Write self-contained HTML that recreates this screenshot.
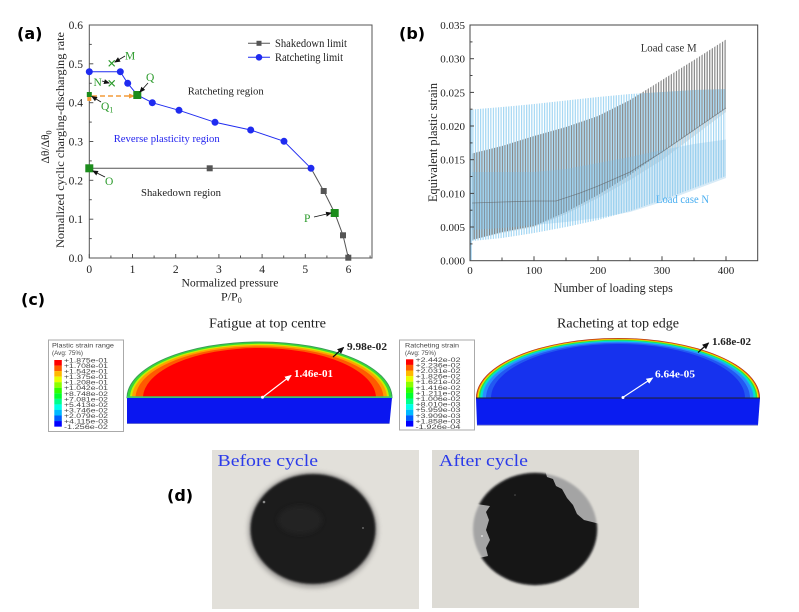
<!DOCTYPE html>
<html><head><meta charset="utf-8"><style>
html,body{margin:0;padding:0;background:#fff;}
svg{display:block;}
.t{font-family:"Liberation Serif",serif;}
.s{font-family:"Liberation Sans",sans-serif;}
.lb{font-family:"DejaVu Sans","Liberation Sans",sans-serif;font-weight:bold;font-size:16px;}
</style></head><body>
<svg width="799" height="612" viewBox="0 0 799 612" xmlns="http://www.w3.org/2000/svg">
<defs>
<marker id="ah" markerWidth="6" markerHeight="6" refX="5" refY="3" orient="auto" markerUnits="userSpaceOnUse"><path d="M0,0.5 L6,3 L0,5.5 z" fill="#111"/></marker>
<marker id="ahw" markerWidth="7" markerHeight="7" refX="6" refY="3.5" orient="auto" markerUnits="userSpaceOnUse"><path d="M0,0.5 L7,3.5 L0,6.5 z" fill="#fff"/></marker>
<marker id="ahb" markerWidth="7" markerHeight="7" refX="6" refY="3.5" orient="auto" markerUnits="userSpaceOnUse"><path d="M0,0.5 L7,3.5 L0,6.5 z" fill="#111"/></marker>
<marker id="aho" markerWidth="6" markerHeight="6" refX="5" refY="3" orient="auto" markerUnits="userSpaceOnUse"><path d="M0,0.5 L6,3 L0,5.5 z" fill="#f39c3a"/></marker>
<pattern id="pg" x="0" y="0" width="2.56" height="20" patternUnits="userSpaceOnUse"><rect x="0" y="0" width="1.2" height="20" fill="#858585"/></pattern>
<pattern id="pb" x="0" y="0" width="2.56" height="20" patternUnits="userSpaceOnUse"><rect x="1.28" y="0" width="1.2" height="20" fill="#a4d7f3"/></pattern>
<filter id="bl" x="-10%" y="-10%" width="120%" height="120%"><feGaussianBlur stdDeviation="1.1"/></filter>
<filter id="bl3" x="-20%" y="-20%" width="140%" height="140%"><feGaussianBlur stdDeviation="2.5"/></filter>
<clipPath id="cfat"><rect x="100" y="300" width="320" height="98.2"/></clipPath>
<clipPath id="crat"><rect x="460" y="300" width="320" height="98.2"/></clipPath>
<clipPath id="cblk"><polygon points="470,470 545,470 547,477 553,479 556,486 562,489 567,498 573,505 577,514 584,520 600,524 600,600 470,600 470,560 488,556 486,548 490,540 486,530 489,520 486,512 490,506 470,503"/></clipPath>
</defs>

<!-- ================= (a) ================= -->
<text class="lb" x="17" y="39">(a)</text>
<rect x="89.3" y="25" width="282.7" height="233" fill="none" stroke="#555" stroke-width="1"/>
<g stroke="#555" stroke-width="1">
<!-- x ticks -->
<line x1="89.3" y1="258" x2="89.3" y2="254"/><line x1="132.5" y1="258" x2="132.5" y2="254"/><line x1="175.7" y1="258" x2="175.7" y2="254"/><line x1="218.9" y1="258" x2="218.9" y2="254"/><line x1="262.1" y1="258" x2="262.1" y2="254"/><line x1="305.3" y1="258" x2="305.3" y2="254"/><line x1="348.5" y1="258" x2="348.5" y2="254"/>
<line x1="110.9" y1="258" x2="110.9" y2="255.5"/><line x1="154.1" y1="258" x2="154.1" y2="255.5"/><line x1="197.3" y1="258" x2="197.3" y2="255.5"/><line x1="240.5" y1="258" x2="240.5" y2="255.5"/><line x1="283.7" y1="258" x2="283.7" y2="255.5"/><line x1="326.9" y1="258" x2="326.9" y2="255.5"/><line x1="370.1" y1="258" x2="370.1" y2="255.5"/>
<!-- y ticks -->
<line x1="89.3" y1="219.2" x2="93.3" y2="219.2"/><line x1="89.3" y1="180.3" x2="93.3" y2="180.3"/><line x1="89.3" y1="141.5" x2="93.3" y2="141.5"/><line x1="89.3" y1="102.7" x2="93.3" y2="102.7"/><line x1="89.3" y1="63.8" x2="93.3" y2="63.8"/>
<line x1="89.3" y1="238.6" x2="91.8" y2="238.6"/><line x1="89.3" y1="199.7" x2="91.8" y2="199.7"/><line x1="89.3" y1="160.9" x2="91.8" y2="160.9"/><line x1="89.3" y1="122.1" x2="91.8" y2="122.1"/><line x1="89.3" y1="83.3" x2="91.8" y2="83.3"/><line x1="89.3" y1="44.4" x2="91.8" y2="44.4"/>
</g>
<g class="t" font-size="11.5" fill="#222" text-anchor="end">
<text x="83" y="262">0.0</text><text x="83" y="223.2">0.1</text><text x="83" y="184.3">0.2</text><text x="83" y="145.5">0.3</text><text x="83" y="106.7">0.4</text><text x="83" y="67.8">0.5</text><text x="83" y="29">0.6</text>
</g>
<g class="t" font-size="11.5" fill="#222" text-anchor="middle">
<text x="89.3" y="273">0</text><text x="132.5" y="273">1</text><text x="175.7" y="273">2</text><text x="218.9" y="273">3</text><text x="262.1" y="273">4</text><text x="305.3" y="273">5</text><text x="348.5" y="273">6</text>
</g>
<text class="t" x="230" y="286.5" font-size="12" fill="#222" text-anchor="middle" textLength="97" lengthAdjust="spacingAndGlyphs">Normalized pressure</text>
<text class="t" x="221" y="300.5" font-size="12" fill="#222">P/P<tspan font-size="8" dy="2.5">0</tspan></text>
<text class="t" transform="translate(64,140) rotate(-90)" font-size="11.5" fill="#222" text-anchor="middle" textLength="216" lengthAdjust="spacingAndGlyphs">Nomalized cyclic charging-discharging rate</text>
<text class="t" transform="translate(49,147) rotate(-90)" font-size="11.5" fill="#222" text-anchor="middle">Δθ/Δθ<tspan font-size="8" dy="2.5">0</tspan></text>

<!-- shakedown -->
<polyline points="89.3,168.3 209.7,168.3 311,168.3 323.7,191 334.7,213 343,235.3 348.3,257.7" fill="none" stroke="#555" stroke-width="1"/>
<g fill="#555">
<rect x="206.7" y="165.3" width="6" height="6"/><rect x="320.7" y="188" width="6" height="6"/><rect x="340" y="232.3" width="6" height="6"/><rect x="345.3" y="254.7" width="6" height="6"/>
</g>
<!-- ratcheting -->
<polyline points="89.3,71.7 120.3,71.7 127.7,83.3 137.3,95 152.3,102.7 179,110.3 215,122.3 250.7,130 284,141.3 311,168.3" fill="none" stroke="#1f2bf0" stroke-width="1"/>
<g fill="#1f2bf0">
<circle cx="89.3" cy="71.7" r="3.5"/><circle cx="120.3" cy="71.7" r="3.5"/><circle cx="127.7" cy="83.3" r="3.5"/><circle cx="152.3" cy="102.7" r="3.5"/><circle cx="179" cy="110.3" r="3.5"/><circle cx="215" cy="122.3" r="3.5"/><circle cx="250.7" cy="130" r="3.5"/><circle cx="284" cy="141.3" r="3.5"/><circle cx="311" cy="168.3" r="3.5"/>
</g>
<!-- orange dashed arrow -->
<line x1="92" y1="96" x2="134" y2="96" stroke="#f39c3a" stroke-width="1.6" stroke-dasharray="5,3" marker-end="url(#aho)"/>
<rect x="87.3" y="97" width="4" height="4" fill="#f39c3a"/>
<!-- green points -->
<g fill="#1c8c1c">
<rect x="85.3" y="164.3" width="8" height="8"/><rect x="133.3" y="91" width="8" height="8"/><rect x="330.7" y="209" width="8" height="8"/><rect x="86.8" y="92" width="5" height="5"/>
</g>
<g stroke="#2a9a2a" stroke-width="1.1">
<line x1="108.7" y1="60.3" x2="114.7" y2="66.3"/><line x1="114.7" y1="60.3" x2="108.7" y2="66.3"/>
<line x1="108.7" y1="80.3" x2="114.7" y2="86.3"/><line x1="114.7" y1="80.3" x2="108.7" y2="86.3"/>
</g>
<g class="t" font-size="11.5" fill="#2a9a2a">
<text x="125" y="59.5">M</text><text x="93.5" y="86">N</text><text x="146" y="81">Q</text><text x="101" y="110">Q<tspan font-size="8" dy="2.5">1</tspan></text><text x="105" y="185">O</text><text x="304" y="222">P</text>
</g>
<g stroke="#111" stroke-width="0.8">
<line x1="125" y1="56" x2="115" y2="62" marker-end="url(#ah)"/>
<line x1="102" y1="81" x2="109" y2="83" marker-end="url(#ah)"/>
<line x1="148" y1="83" x2="140" y2="92" marker-end="url(#ah)"/>
<line x1="101" y1="102" x2="92" y2="96.5" marker-end="url(#ah)"/>
<line x1="105" y1="177" x2="93" y2="171" marker-end="url(#ah)"/>
<line x1="314" y1="217" x2="331" y2="213" marker-end="url(#ah)"/>
</g>
<g class="t" font-size="11">
<text x="225.7" y="94.5" text-anchor="middle" fill="#222" textLength="76" lengthAdjust="spacingAndGlyphs">Ratcheting region</text>
<text x="166.7" y="142" text-anchor="middle" fill="#2323ee" textLength="106" lengthAdjust="spacingAndGlyphs">Reverse plasticity region</text>
<text x="181" y="196" text-anchor="middle" fill="#222" textLength="80" lengthAdjust="spacingAndGlyphs">Shakedown region</text>
</g>
<!-- legend -->
<line x1="248" y1="43.3" x2="270" y2="43.3" stroke="#555" stroke-width="1"/><rect x="256.5" y="40.8" width="5" height="5" fill="#555"/>
<line x1="248" y1="57.3" x2="270" y2="57.3" stroke="#1f2bf0" stroke-width="1"/><circle cx="259" cy="57.3" r="3.3" fill="#1f2bf0"/>
<text class="t" x="275" y="47" font-size="11.5" fill="#222" textLength="72" lengthAdjust="spacingAndGlyphs">Shakedown limit</text>
<text class="t" x="275" y="61" font-size="11.5" fill="#222" textLength="68" lengthAdjust="spacingAndGlyphs">Ratcheting limit</text>

<!-- ================= (b) ================= -->
<text class="lb" x="399" y="39">(b)</text>
<!-- M gray stripes -->
<polygon points="472,153.5 502,146 534,136 566,127 598,116 630,100 662,80 694,60 726,39.5 726,108 694,130 662,152 630,175 598,195 566,212 534,226 502,232 472,240" fill="url(#pg)"/>
<polygon points="472,203 502,202 534,201 556,201 580,193 598,186 630,172 662,152 694,130 726,108 726,112 694,136 662,160 630,180 598,198 566,214 534,227 502,233 472,240" fill="#6a6a6a" opacity="0.22"/>
<!-- N blue stripes -->
<polygon points="472,109.5 502,107 534,104 566,100.5 598,97 630,94 662,92 694,90 726,89 726,176 694,188 662,200 630,211 598,220 566,227 534,233 502,238 472,241" fill="url(#pb)"/>
<polygon points="472,172 502,172 534,172 566,169 598,163 630,157 662,150 694,144 726,139.5 726,178 694,190 662,202 630,212 598,218 566,222 534,225 502,228 472,230" fill="#7fbde6" opacity="0.3"/>
<polyline points="472,203 502,202 534,201 556,201 580,193 598,186 630,172 662,152 694,130 726,108" fill="none" stroke="#555" stroke-width="0.8" opacity="0.55"/>
<line x1="471" y1="260" x2="471" y2="110" stroke="#8fcaf0" stroke-width="1.2"/>
<rect x="470" y="25" width="287.7" height="235.7" fill="none" stroke="#444" stroke-width="1"/>
<g stroke="#444" stroke-width="1">
<line x1="470" y1="227" x2="474" y2="227"/><line x1="470" y1="193.4" x2="474" y2="193.4"/><line x1="470" y1="159.7" x2="474" y2="159.7"/><line x1="470" y1="126" x2="474" y2="126"/><line x1="470" y1="92.4" x2="474" y2="92.4"/><line x1="470" y1="58.7" x2="474" y2="58.7"/>
<line x1="470" y1="243.9" x2="472.5" y2="243.9"/><line x1="470" y1="210.2" x2="472.5" y2="210.2"/><line x1="470" y1="176.5" x2="472.5" y2="176.5"/><line x1="470" y1="142.9" x2="472.5" y2="142.9"/><line x1="470" y1="109.2" x2="472.5" y2="109.2"/><line x1="470" y1="75.5" x2="472.5" y2="75.5"/><line x1="470" y1="41.9" x2="472.5" y2="41.9"/>
<line x1="534" y1="260.7" x2="534" y2="256.2"/><line x1="598" y1="260.7" x2="598" y2="256.2"/><line x1="662" y1="260.7" x2="662" y2="256.2"/><line x1="726" y1="260.7" x2="726" y2="256.2"/>
<line x1="502" y1="260.7" x2="502" y2="257.5"/><line x1="566" y1="260.7" x2="566" y2="257.5"/><line x1="630" y1="260.7" x2="630" y2="257.5"/><line x1="694" y1="260.7" x2="694" y2="257.5"/>
</g>
<g class="t" font-size="11" fill="#222" text-anchor="end">
<text x="465" y="264.7">0.000</text><text x="465" y="231">0.005</text><text x="465" y="197.4">0.010</text><text x="465" y="163.7">0.015</text><text x="465" y="130">0.020</text><text x="465" y="96.4">0.025</text><text x="465" y="62.7">0.030</text><text x="465" y="29">0.035</text>
</g>
<g class="t" font-size="11" fill="#222" text-anchor="middle">
<text x="470" y="274">0</text><text x="534" y="274">100</text><text x="598" y="274">200</text><text x="662" y="274">300</text><text x="726" y="274">400</text>
</g>
<text class="t" x="613.3" y="292" font-size="12.5" fill="#222" text-anchor="middle" textLength="119" lengthAdjust="spacingAndGlyphs">Number of loading steps</text>
<text class="t" transform="translate(437,142.5) rotate(-90)" font-size="12.5" fill="#222" text-anchor="middle" textLength="119" lengthAdjust="spacingAndGlyphs">Equivalent plastic strain</text>
<text class="t" x="640.7" y="51.5" font-size="11.5" fill="#333" textLength="56" lengthAdjust="spacingAndGlyphs">Load case M</text>
<text class="t" x="656" y="203" font-size="11.5" fill="#4aaef0" textLength="53" lengthAdjust="spacingAndGlyphs">Load case N</text>

<!-- ================= (c) ================= -->
<text class="lb" x="21" y="305">(c)</text>
<text class="t" x="267.5" y="327.5" font-size="14" fill="#222" text-anchor="middle" textLength="117" lengthAdjust="spacingAndGlyphs">Fatigue at top centre</text>
<text class="t" x="618" y="327.5" font-size="14" fill="#222" text-anchor="middle" textLength="122" lengthAdjust="spacingAndGlyphs">Racheting at top edge</text>

<!-- legend box 1 -->
<rect x="48.5" y="340" width="75" height="91.5" fill="#fff" stroke="#aaa" stroke-width="1"/>
<text class="s" x="52" y="347.5" font-size="6.3" fill="#444" textLength="62" lengthAdjust="spacingAndGlyphs">Plastic strain range</text>
<text class="s" x="52" y="355" font-size="6.3" fill="#444">(Avg: 75%)</text>
<g>
<rect x="54.3" y="360" width="7.5" height="5.6" fill="#ff0000"/>
<rect x="54.3" y="365.55" width="7.5" height="5.6" fill="#ff5d00"/>
<rect x="54.3" y="371.1" width="7.5" height="5.6" fill="#ffb900"/>
<rect x="54.3" y="376.65" width="7.5" height="5.6" fill="#e8ff00"/>
<rect x="54.3" y="382.2" width="7.5" height="5.6" fill="#8bff00"/>
<rect x="54.3" y="387.75" width="7.5" height="5.6" fill="#2eff00"/>
<rect x="54.3" y="393.3" width="7.5" height="5.6" fill="#00ff2e"/>
<rect x="54.3" y="398.85" width="7.5" height="5.6" fill="#00ff8b"/>
<rect x="54.3" y="404.4" width="7.5" height="5.6" fill="#00ffe8"/>
<rect x="54.3" y="409.95" width="7.5" height="5.6" fill="#00b9ff"/>
<rect x="54.3" y="415.5" width="7.5" height="5.6" fill="#005dff"/>
<rect x="54.3" y="421.05" width="7.5" height="5.6" fill="#0000ff"/>
</g>
<g class="s" font-size="6" fill="#444">
<text x="64" y="362.5" textLength="44" lengthAdjust="spacingAndGlyphs">+1.875e-01</text>
<text x="64" y="368" textLength="44" lengthAdjust="spacingAndGlyphs">+1.708e-01</text>
<text x="64" y="373.6" textLength="44" lengthAdjust="spacingAndGlyphs">+1.542e-01</text>
<text x="64" y="379.1" textLength="44" lengthAdjust="spacingAndGlyphs">+1.375e-01</text>
<text x="64" y="384.7" textLength="44" lengthAdjust="spacingAndGlyphs">+1.208e-01</text>
<text x="64" y="390.2" textLength="44" lengthAdjust="spacingAndGlyphs">+1.042e-01</text>
<text x="64" y="395.8" textLength="44" lengthAdjust="spacingAndGlyphs">+8.748e-02</text>
<text x="64" y="401.3" textLength="44" lengthAdjust="spacingAndGlyphs">+7.081e-02</text>
<text x="64" y="406.9" textLength="44" lengthAdjust="spacingAndGlyphs">+5.413e-02</text>
<text x="64" y="412.4" textLength="44" lengthAdjust="spacingAndGlyphs">+3.746e-02</text>
<text x="64" y="418" textLength="44" lengthAdjust="spacingAndGlyphs">+2.079e-02</text>
<text x="64" y="423.5" textLength="44" lengthAdjust="spacingAndGlyphs">+4.115e-03</text>
<text x="64" y="429" textLength="44" lengthAdjust="spacingAndGlyphs">-1.256e-02</text>
</g>

<!-- fatigue dome -->
<g clip-path="url(#cfat)">
<ellipse cx="259.5" cy="398" rx="133" ry="56.5" fill="#3a9a5a"/>
<ellipse cx="259.5" cy="398" rx="132" ry="55.6" fill="#38d838"/>
<ellipse cx="259.5" cy="398" rx="129.5" ry="54.2" fill="#c8f000"/>
<ellipse cx="259.5" cy="398" rx="127.5" ry="53" fill="#ffa000"/>
<ellipse cx="259.5" cy="398" rx="124" ry="51.5" fill="#ff5a00"/>
<ellipse cx="259.5" cy="398" rx="116.5" ry="50" fill="#ff0000"/>
</g>
<rect x="127" y="396.3" width="265" height="1.8" fill="#3cc870"/>
<polygon points="127,398 392,398 389.5,423.5 127,423.5" fill="#0a16f0"/>
<line x1="127" y1="423.6" x2="389.5" y2="423.6" stroke="#7a80c8" stroke-width="0.8"/>
<line x1="263" y1="397" x2="291" y2="375.5" stroke="#fff" stroke-width="1.2" marker-end="url(#ahw)"/>
<circle cx="262.5" cy="397.3" r="1.5" fill="#fff"/>
<text class="t" x="294" y="377" font-size="11" font-weight="bold" fill="#fff" textLength="39" lengthAdjust="spacingAndGlyphs">1.46e-01</text>
<line x1="333" y1="357" x2="343.5" y2="347.5" stroke="#111" stroke-width="1.2" marker-end="url(#ahb)"/>
<text class="t" x="347" y="350" font-size="11" font-weight="bold" fill="#222" textLength="40" lengthAdjust="spacingAndGlyphs">9.98e-02</text>

<!-- legend box 2 -->
<rect x="399.5" y="340" width="75" height="90" fill="#fff" stroke="#aaa" stroke-width="1"/>
<text class="s" x="405" y="347.5" font-size="6.3" fill="#444" textLength="54" lengthAdjust="spacingAndGlyphs">Ratcheting strain</text>
<text class="s" x="405" y="355" font-size="6.3" fill="#444">(Avg: 75%)</text>
<g>
<rect x="406" y="359.3" width="7.3" height="5.65" fill="#ff0000"/>
<rect x="406" y="364.9" width="7.3" height="5.65" fill="#ff5d00"/>
<rect x="406" y="370.5" width="7.3" height="5.65" fill="#ffb900"/>
<rect x="406" y="376.1" width="7.3" height="5.65" fill="#e8ff00"/>
<rect x="406" y="381.7" width="7.3" height="5.65" fill="#8bff00"/>
<rect x="406" y="387.3" width="7.3" height="5.65" fill="#2eff00"/>
<rect x="406" y="392.9" width="7.3" height="5.65" fill="#00ff2e"/>
<rect x="406" y="398.5" width="7.3" height="5.65" fill="#00ff8b"/>
<rect x="406" y="404.1" width="7.3" height="5.65" fill="#00ffe8"/>
<rect x="406" y="409.7" width="7.3" height="5.65" fill="#00b9ff"/>
<rect x="406" y="415.3" width="7.3" height="5.65" fill="#005dff"/>
<rect x="406" y="420.9" width="7.3" height="5.65" fill="#0000ff"/>
</g>
<g class="s" font-size="6" fill="#444">
<text x="415.5" y="361.8" textLength="45" lengthAdjust="spacingAndGlyphs">+2.442e-02</text>
<text x="415.5" y="367.4" textLength="45" lengthAdjust="spacingAndGlyphs">+2.236e-02</text>
<text x="415.5" y="373" textLength="45" lengthAdjust="spacingAndGlyphs">+2.031e-02</text>
<text x="415.5" y="378.6" textLength="45" lengthAdjust="spacingAndGlyphs">+1.826e-02</text>
<text x="415.5" y="384.2" textLength="45" lengthAdjust="spacingAndGlyphs">+1.621e-02</text>
<text x="415.5" y="389.8" textLength="45" lengthAdjust="spacingAndGlyphs">+1.416e-02</text>
<text x="415.5" y="395.4" textLength="45" lengthAdjust="spacingAndGlyphs">+1.211e-02</text>
<text x="415.5" y="401" textLength="45" lengthAdjust="spacingAndGlyphs">+1.006e-02</text>
<text x="415.5" y="406.6" textLength="45" lengthAdjust="spacingAndGlyphs">+8.010e-03</text>
<text x="415.5" y="412.2" textLength="45" lengthAdjust="spacingAndGlyphs">+5.959e-03</text>
<text x="415.5" y="417.8" textLength="45" lengthAdjust="spacingAndGlyphs">+3.909e-03</text>
<text x="415.5" y="423.4" textLength="45" lengthAdjust="spacingAndGlyphs">+1.858e-03</text>
<text x="415.5" y="429" textLength="45" lengthAdjust="spacingAndGlyphs">-1.926e-04</text>
</g>

<!-- racheting dome -->
<g clip-path="url(#crat)">
<ellipse cx="618" cy="398" rx="142" ry="60" fill="#a83018"/>
<ellipse cx="618" cy="398" rx="141.2" ry="59.4" fill="#ff8000"/>
<ellipse cx="618" cy="398" rx="140.3" ry="58.8" fill="#e0f000"/>
<ellipse cx="618" cy="398" rx="139.3" ry="58.2" fill="#30e040"/>
<ellipse cx="618" cy="398" rx="137.8" ry="57.4" fill="#00e0d0"/>
<ellipse cx="618" cy="398" rx="135.5" ry="56.4" fill="#2a8cff"/>
<ellipse cx="618" cy="398" rx="132" ry="55.2" fill="#2258f2"/>
<ellipse cx="618" cy="398" rx="127" ry="54" fill="#1632ee"/>
</g>
<polygon points="476,398 760,398 758,425 477,425" fill="#0a1cf0"/>
<line x1="476" y1="398" x2="760" y2="398" stroke="#222" stroke-width="0.9"/>
<line x1="477" y1="425.2" x2="758" y2="425.2" stroke="#7a80c8" stroke-width="0.8"/>
<line x1="623.5" y1="397" x2="652.5" y2="378" stroke="#fff" stroke-width="1.2" marker-end="url(#ahw)"/>
<circle cx="623" cy="397.5" r="1.5" fill="#fff"/>
<text class="t" x="655" y="377.5" font-size="11" font-weight="bold" fill="#fff" textLength="40" lengthAdjust="spacingAndGlyphs">6.64e-05</text>
<line x1="698" y1="352.5" x2="708.5" y2="343" stroke="#111" stroke-width="1.2" marker-end="url(#ahb)"/>
<text class="t" x="712" y="345" font-size="11" font-weight="bold" fill="#222" textLength="39" lengthAdjust="spacingAndGlyphs">1.68e-02</text>

<!-- ================= (d) ================= -->
<text class="lb" x="167" y="501">(d)</text>
<rect x="212" y="450" width="207" height="159" fill="#e2e0da"/>
<rect x="432" y="450" width="207" height="158" fill="#dddbd5"/>
<!-- photo 1 -->
<ellipse cx="313" cy="530" rx="65" ry="58" fill="#8a8886" filter="url(#bl3)" opacity="0.7"/>
<ellipse cx="313" cy="529" rx="62.5" ry="55" fill="#1c1c1e" filter="url(#bl)"/>
<ellipse cx="300" cy="520" rx="22" ry="14" fill="#262628" opacity="0.7" filter="url(#bl3)"/>
<circle cx="264" cy="502" r="1.3" fill="#8a8a8a"/>
<circle cx="363" cy="528" r="1" fill="#666"/>
<text class="t" x="217.5" y="466" font-size="17" fill="#2b3bea" textLength="100.5" lengthAdjust="spacingAndGlyphs">Before cycle</text>
<!-- photo 2 -->
<ellipse cx="535" cy="529" rx="62" ry="56" fill="#a4a4a4" filter="url(#bl)"/>
<g clip-path="url(#cblk)">
<ellipse cx="535" cy="529" rx="62" ry="56" fill="#141416" filter="url(#bl)"/>
</g>
<circle cx="482" cy="536" r="1" fill="#ddd"/>
<circle cx="515" cy="495" r="0.8" fill="#555"/>
<text class="t" x="439" y="466" font-size="17" fill="#2b3bea" textLength="89" lengthAdjust="spacingAndGlyphs">After cycle</text>
</svg>
</body></html>
